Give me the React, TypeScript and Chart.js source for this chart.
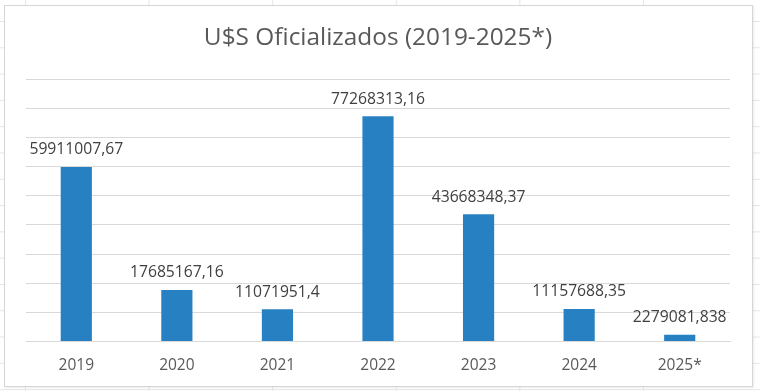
import React, { useEffect, useRef } from "react";
import { Chart, registerables } from "chart.js";

Chart.register(...registerables);

const categories = ["2019", "2020", "2021", "2022", "2023", "2024", "2025*"];
const values = [59911007.67, 17685167.16, 11071951.4, 77268313.16, 43668348.37, 11157688.35, 2279081.838];
const valueLabels = ["59911007,67", "17685167,16", "11071951,4", "77268313,16", "43668348,37", "11157688,35", "2279081,838"];
const titleText = "U$S Oficializados (2019-2025*)";
const yMax = 90000000;
const yStep = 10000000;

const FONT = "'Open Sans', 'DejaVu Sans', sans-serif";

const labelPlugin = {
  id: "barValueLabels",
  afterDatasetsDraw(chart: any) {
    const ctx = chart.ctx;
    const meta = chart.getDatasetMeta(0);
    ctx.save();
    ctx.font = `15.7px ${FONT}`;
    ctx.fillStyle = "#404040";
    ctx.textAlign = "center";
    ctx.textBaseline = "middle";
    meta.data.forEach((bar: any, i: number) => {
      ctx.fillText(valueLabels[i], bar.x, bar.y - 17);
    });
    ctx.restore();
  },
};

export default function App() {
  const ref = useRef<HTMLCanvasElement | null>(null);
  useEffect(() => {
    if (!ref.current) return;
    const chart = new Chart(ref.current, {
      type: "bar",
      data: {
        labels: categories,
        datasets: [
          {
            data: values,
            backgroundColor: "#2780C2",
            borderWidth: 0,
            barPercentage: 0.62,
            categoryPercentage: 0.5,
          },
        ],
      },
      options: {
        responsive: false,
        animation: false,
        devicePixelRatio: 1,
        layout: { padding: { left: 26, right: 30, top: 0, bottom: 1 } },
        plugins: {
          legend: { display: false },
          tooltip: { enabled: false },
          title: {
            display: true,
            text: titleText,
            color: "#595959",
            font: { family: FONT, size: 24.4, weight: "normal" },
            padding: { top: 23.6, bottom: 26.4 },
          },
        },
        scales: {
          x: {
            grid: { display: false, drawTicks: false },
            border: { display: true, color: "#d9d9d9", width: 1 },
            ticks: {
              color: "#595959",
              font: { family: FONT, size: 15.5 },
              padding: 15,
            },
          },
          y: {
            min: 0,
            max: yMax,
            ticks: { display: false, stepSize: yStep },
            grid: { color: "#d9d9d9", drawTicks: false, lineWidth: 1 },
            border: { display: false },
          },
        },
      },
      plugins: [labelPlugin],
    });
    return () => chart.destroy();
  }, []);

  return (
    <div
      style={{
        position: "fixed",
        left: 0,
        top: 0,
        width: 760,
        height: 391,
        overflow: "hidden",
        background: "#ffffff",
        backgroundImage:
          "linear-gradient(to right, #e6e6e6 1px, transparent 1px), linear-gradient(to bottom, #e6e6e6 1px, transparent 1px)",
        backgroundSize: "123.6px 100%, 100% 26.3px",
        backgroundPosition: "25px 0, 0 21px",
      }}
    >
      <div
        style={{
          position: "absolute",
          left: 4,
          top: 5,
          width: 747,
          height: 380,
          background: "#ffffff",
          border: "1px solid #d6d6d6",
          boxShadow: "1px 1px 2px rgba(0,0,0,0.08)",
        }}
      />
      <canvas
        ref={ref}
        width={760}
        height={391}
        style={{ position: "absolute", left: 0, top: 0, width: 760, height: 391 }}
      />
    </div>
  );
}
